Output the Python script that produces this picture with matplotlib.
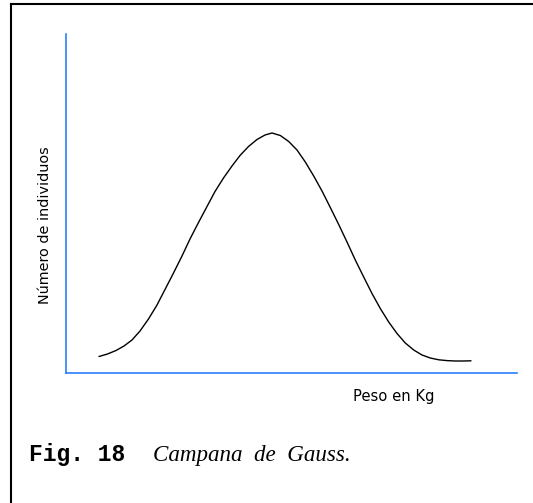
import matplotlib
matplotlib.use("Agg")
import matplotlib.pyplot as plt
from matplotlib.lines import Line2D

# Curve (weight axis vs. number of individuals, arbitrary units)
peso = [33, 41.5, 50, 58, 66, 74, 82.5, 91, 99, 107.5, 116, 124, 132.5, 141,
        149, 157.5, 166, 174, 182.5, 191, 199, 206,
        214.3, 222.7, 231, 239.3, 247.7, 256, 264.3, 272.7, 281, 289.3, 297.7,
        306, 314.3, 322.7, 331, 339.3, 347.7, 356, 364.3, 372.7, 381, 389.3,
        397.7, 405]
individuos = [16.5, 19, 22.5, 27, 33, 42, 54, 68, 83.5, 100, 117, 134, 150.5,
              166.5, 181.5, 195, 207, 217.5, 226.5, 233.5, 238, 240,
              237.5, 231.5, 223, 211, 197, 182, 165.5, 148.5, 131, 113, 96,
              79.5, 64.5, 51, 39.5, 30, 23, 18, 15, 13.2, 12.4, 12, 12, 12.2]

ylabel = "Número de individuos"
xlabel = "Peso en Kg"
fig_num = "Fig. 18"
caption = "Campana  de  Gauss."

W, H = 533, 503
fig = plt.figure(figsize=(W / 100, H / 100), dpi=100)
fig.patch.set_facecolor("white")

ax = fig.add_axes([66 / W, (H - 373) / H, 451 / W, 339 / H])
ax.plot(peso, individuos, color="black", lw=1.0, solid_joinstyle="round",
        solid_capstyle="round")
ax.set_xlim(0, 451)
ax.set_ylim(0, 339)
ax.set_xticks([])
ax.set_yticks([])
for s in ["top", "right"]:
    ax.spines[s].set_visible(False)
for s in ["left", "bottom"]:
    ax.spines[s].set_color("#2a7fff")
    ax.spines[s].set_linewidth(1.2)

# frame lines (top and left only)
fig.add_artist(Line2D([11 / W, 1], [1 - 4 / H, 1 - 4 / H], color="black",
                      lw=1.5, transform=fig.transFigure))
fig.add_artist(Line2D([11 / W, 11 / W], [0, 1 - 4 / H], color="black",
                      lw=1.5, transform=fig.transFigure))

fig.text(45 / W, 1 - 225 / H, ylabel, rotation=90, ha="center", va="center",
         fontsize=10.4, family="DejaVu Sans")
fig.text(394 / W, 1 - 397 / H, xlabel, ha="center", va="center",
         fontsize=10.6, family="DejaVu Sans")
fig.text(29 / W, 1 - 461 / H, fig_num, ha="left", va="baseline",
         fontsize=16.5, family="Liberation Mono", weight="bold")
fig.text(153 / W, 1 - 461 / H, caption, ha="left", va="baseline",
         fontsize=16.6, family="Liberation Serif", style="italic")

fig.savefig("out.png", dpi=100)
